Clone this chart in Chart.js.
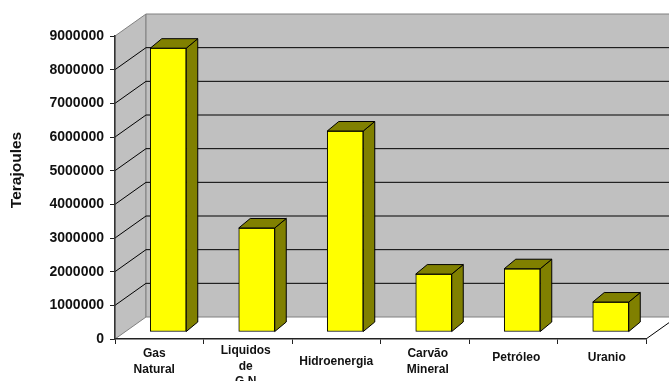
<!DOCTYPE html>
<html>
<head>
<meta charset="utf-8">
<style>
  html, body { margin: 0; padding: 0; background: #fff; overflow: hidden; }
  canvas { display: block; }
</style>
<script src="https://cdn.jsdelivr.net/npm/chart.js@4"></script>
</head>
<body>
<canvas id="energyChart" width="669" height="381"></canvas>
<script>
const categories = [['Gas', 'Natural'], ['Liquidos', 'de', 'G.N'], 'Hidroenergia', ['Carvão', 'Mineral'], 'Petróleo', 'Uranio'];
const terajoules = [8430000, 3090000, 5970000, 1720000, 1880000, 890000];
const axisTitle = 'Terajoules';

// Nudges for the category captions, they don't sit on one common line
const captionShiftX = [-5, -2, 0, 3, 3, 5];
const captionShiftY = [0, -3, 8, 0, 4, 4];

const FONT = '"Liberation Sans", Arial, sans-serif';
const WALL_DX = 31, WALL_DY = 22;   // depth of the box
const BAR_DX = 11.5, BAR_DY = 9.5;  // depth of each column
const BAR_SHIFT_X = 9, BAR_SHIFT_Y = 7;

function poly(ctx, pts, fill, stroke, width) {
  ctx.beginPath();
  pts.forEach(([x, y], i) => (i ? ctx.lineTo(x, y) : ctx.moveTo(x, y)));
  ctx.closePath();
  if (fill) { ctx.fillStyle = fill; ctx.fill(); }
  if (stroke) { ctx.strokeStyle = stroke; ctx.lineWidth = width || 1; ctx.stroke(); }
}

function line(ctx, x1, y1, x2, y2, color, width) {
  ctx.beginPath();
  ctx.moveTo(x1, y1);
  ctx.lineTo(x2, y2);
  ctx.strokeStyle = color;
  ctx.lineWidth = width || 1;
  ctx.stroke();
}

const box3d = {
  id: 'box3d',
  beforeDraw(chart) {
    const { ctx, chartArea: a, scales: { x, y } } = chart;
    const right = chart.width + 10;
    const top = a.top - WALL_DY, floor = a.bottom - WALL_DY;
    ctx.save();

    // left wall and back wall
    poly(ctx, [[a.left, a.top], [a.left + WALL_DX, top], [a.left + WALL_DX, floor], [a.left, a.bottom]], '#c0c0c0', '#808080');
    poly(ctx, [[a.left + WALL_DX, top], [right, top], [right, floor], [a.left + WALL_DX, floor]], '#c0c0c0', '#808080');

    // gridlines run across the left wall and along the back
    y.ticks.forEach(t => {
      if (t.value === 0 || t.value === y.max) return;
      const py = y.getPixelForValue(t.value);
      line(ctx, a.left, py, a.left + WALL_DX, py - WALL_DY, '#000');
      line(ctx, a.left + WALL_DX, py - WALL_DY, right, py - WALL_DY, '#000');
    });

    // floor edge on the right
    line(ctx, a.right, a.bottom, a.right + WALL_DX, floor, '#000');
    ctx.restore();

    // move category captions
    x.getLabelItems(a).forEach((item, i) => {
      if (item.moved) return;
      item.options.translation[0] += captionShiftX[i];
      item.options.translation[1] += captionShiftY[i];
      item.moved = true;
    });
  },
  beforeDatasetsDraw(chart) {
    chart.ctx.save();
    chart.ctx.translate(BAR_SHIFT_X, -BAR_SHIFT_Y);
  },
  afterDatasetsDraw(chart) {
    const { ctx } = chart;
    // side and top faces of the columns
    chart.getDatasetMeta(0).data.forEach(bar => {
      const l = bar.x - bar.width / 2, r = bar.x + bar.width / 2;
      poly(ctx, [[r, bar.y], [r + BAR_DX, bar.y - BAR_DY], [r + BAR_DX, bar.base - BAR_DY], [r, bar.base]], '#808000', '#000');
      poly(ctx, [[l, bar.y], [l + BAR_DX, bar.y - BAR_DY], [r + BAR_DX, bar.y - BAR_DY], [r, bar.y]], '#808000', '#000');
    });
    ctx.restore();
  },
  afterDraw(chart) {
    // axis title sits above the middle of the axis
    const { ctx } = chart;
    ctx.save();
    ctx.translate(17, 170);
    ctx.rotate(-Math.PI / 2);
    ctx.font = 'bold 15.5px ' + FONT;
    ctx.fillStyle = '#111';
    ctx.textAlign = 'center';
    ctx.textBaseline = 'middle';
    ctx.fillText(axisTitle, 0, 0);
    ctx.restore();
  }
};

new Chart(document.getElementById('energyChart'), {
  type: 'bar',
  data: {
    labels: categories,
    datasets: [{
      label: axisTitle,
      data: terajoules,
      backgroundColor: '#ffff00',
      borderColor: '#000',
      borderWidth: 1,
      borderSkipped: false,
      barThickness: 36,
      clip: false
    }]
  },
  options: {
    responsive: false,
    animation: false,
    layout: { padding: { top: 36, right: 23, left: 9, bottom: 0 } },
    plugins: { legend: { display: false }, tooltip: { enabled: false } },
    scales: {
      x: {
        afterFit: s => { s.height = 42; },
        grid: { drawOnChartArea: false, tickLength: 5, color: '#222' },
        border: { color: '#222', width: 1.5 },
        ticks: {
          maxRotation: 0,
          autoSkip: false,
          padding: 2,
          color: '#111',
          font: { family: FONT, size: 12, weight: 'bold', lineHeight: 1.3 }
        }
      },
      y: {
        min: 0,
        max: 9000000,
        afterFit: s => { s.width = 106; },
        grid: { drawOnChartArea: false, tickLength: 5, color: '#222' },
        border: { color: '#333', width: 1.5 },
        ticks: {
          stepSize: 1000000,
          padding: 6,
          color: '#111',
          font: { family: FONT, size: 14, weight: 'bold' },
          callback: v => String(v)
        }
      }
    }
  },
  plugins: [box3d]
});
</script>
</body>
</html>
